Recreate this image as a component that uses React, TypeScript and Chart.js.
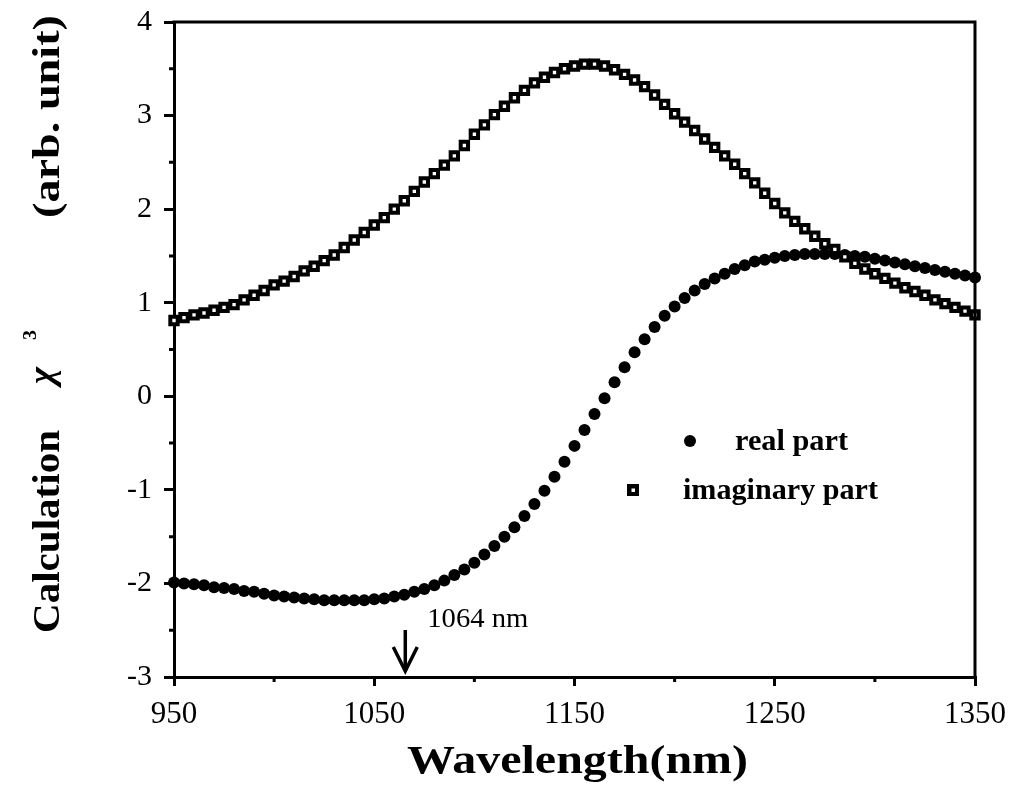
import { useEffect, useRef } from "react";
import { Chart, registerables } from "chart.js";

Chart.register(...registerables);

const wavelengths = [
  950, 955, 960, 965, 970, 975, 980, 985, 990, 995,
  1000, 1005, 1010, 1015, 1020, 1025, 1030, 1035, 1040, 1045,
  1050, 1055, 1060, 1065, 1070, 1075, 1080, 1085, 1090, 1095,
  1100, 1105, 1110, 1115, 1120, 1125, 1130, 1135, 1140, 1145,
  1150, 1155, 1160, 1165, 1170, 1175, 1180, 1185, 1190, 1195,
  1200, 1205, 1210, 1215, 1220, 1225, 1230, 1235, 1240, 1245,
  1250, 1255, 1260, 1265, 1270, 1275, 1280, 1285, 1290, 1295,
  1300, 1305, 1310, 1315, 1320, 1325, 1330, 1335, 1340, 1345,
  1350,
];

const realPart = [
  -1.99, -2.0, -2.01, -2.02, -2.04, -2.05, -2.06, -2.08, -2.09, -2.11,
  -2.13, -2.14, -2.15, -2.16, -2.17, -2.18, -2.18, -2.18, -2.18, -2.18,
  -2.17, -2.16, -2.14, -2.12, -2.09, -2.06, -2.02, -1.97, -1.91, -1.85,
  -1.78, -1.69, -1.6, -1.5, -1.4, -1.28, -1.15, -1.01, -0.86, -0.7,
  -0.53, -0.36, -0.19, -0.02, 0.15, 0.31, 0.47, 0.61, 0.74, 0.86,
  0.96, 1.05, 1.13, 1.2, 1.26, 1.31, 1.36, 1.4, 1.44, 1.46,
  1.48, 1.5, 1.51, 1.52, 1.52, 1.52, 1.52, 1.51, 1.5, 1.49,
  1.47, 1.45, 1.43, 1.41, 1.39, 1.37, 1.35, 1.33, 1.31, 1.29,
  1.27,
];

const imaginaryPart = [
  0.81, 0.84, 0.87, 0.89, 0.92, 0.95, 0.98, 1.03, 1.08, 1.13,
  1.19, 1.23, 1.28, 1.34, 1.39, 1.45, 1.51, 1.59, 1.67, 1.75,
  1.83, 1.91, 2.0, 2.09, 2.19, 2.29, 2.38, 2.47, 2.57, 2.68,
  2.8, 2.9, 3.01, 3.1, 3.19, 3.27, 3.35, 3.41, 3.46, 3.5,
  3.53, 3.55, 3.55, 3.53, 3.49, 3.44, 3.38, 3.31, 3.22, 3.12,
  3.02, 2.93, 2.84, 2.75, 2.66, 2.57, 2.48, 2.38, 2.28, 2.17,
  2.06, 1.96, 1.87, 1.79, 1.71, 1.63, 1.57, 1.49, 1.42, 1.36,
  1.31, 1.26, 1.21, 1.16, 1.12, 1.08, 1.03, 0.99, 0.95, 0.91,
  0.87,
];

const xMajorTicks = [950, 1050, 1150, 1250, 1350];
const xMinorTicks = [1000, 1100, 1200, 1300];
const yMajorTicks = [-3, -2, -1, 0, 1, 2, 3, 4];
const yMinorTicks = [-2.5, -1.5, -0.5, 0.5, 1.5, 2.5, 3.5];
const seriesLabels = ["real part", "imaginary part"];
const annotationWavelength = 1064;
const annotationText = "1064 nm";

const SERIF = "'Liberation Serif', 'Times New Roman', serif";

function fitText(
  ctx: CanvasRenderingContext2D,
  text: string,
  x: number,
  y: number,
  width: number,
  font: string
) {
  ctx.save();
  ctx.font = font;
  const w = ctx.measureText(text).width;
  ctx.translate(x, y);
  ctx.scale(width / w, 1);
  ctx.textAlign = "left";
  ctx.textBaseline = "alphabetic";
  ctx.fillText(text, 0, 0);
  ctx.restore();
}

function fitTextRotated(
  ctx: CanvasRenderingContext2D,
  text: string,
  baselineX: number,
  startY: number,
  width: number,
  font: string
) {
  ctx.save();
  ctx.font = font;
  const w = ctx.measureText(text).width;
  ctx.translate(baselineX, startY);
  ctx.rotate(-Math.PI / 2);
  ctx.scale(width / w, 1);
  ctx.textAlign = "left";
  ctx.textBaseline = "alphabetic";
  ctx.fillText(text, 0, 0);
  ctx.restore();
}

const decorPlugin = {
  id: "decor",
  afterDraw(chart: any) {
    const ctx: CanvasRenderingContext2D = chart.ctx;
    const { left, right, top, bottom } = chart.chartArea;
    const xs = chart.scales.x;
    const ys = chart.scales.y;
    ctx.save();
    ctx.strokeStyle = "#000";
    ctx.fillStyle = "#000";
    ctx.lineCap = "butt";

    // frame top and right
    ctx.lineWidth = 3;
    ctx.beginPath();
    ctx.moveTo(left - 1.5, top);
    ctx.lineTo(right, top);
    ctx.lineTo(right, bottom + 1.5);
    ctx.stroke();

    // minor ticks
    ctx.lineWidth = 3;
    ctx.beginPath();
    for (const v of xMinorTicks) {
      const px = xs.getPixelForValue(v);
      ctx.moveTo(px, bottom);
      ctx.lineTo(px, bottom + 5);
    }
    for (const v of yMinorTicks) {
      const py = ys.getPixelForValue(v);
      ctx.moveTo(left, py);
      ctx.lineTo(left - 5, py);
    }
    ctx.stroke();

    // y axis title
    fitTextRotated(ctx, "Calculation", 59, 633, 203, `bold 38px ${SERIF}`);
    fitTextRotated(ctx, "\u03C7", 53, 384, 17, `italic bold 36px ${SERIF}`);
    fitTextRotated(ctx, "3", 36, 340, 10, `bold 19px ${SERIF}`);
    fitTextRotated(ctx, "(arb. unit)", 59, 218, 203, `bold 38px ${SERIF}`);

    // x axis title
    fitText(ctx, "Wavelength(nm)", 407, 773, 341, `bold 41px ${SERIF}`);

    // legend
    ctx.beginPath();
    ctx.arc(690, 441, 6, 0, Math.PI * 2);
    ctx.fill();
    fitText(ctx, seriesLabels[0], 735, 450, 113, `bold 29px ${SERIF}`);
    ctx.fillStyle = "#000";
    ctx.fillRect(627, 484, 12, 12);
    ctx.fillStyle = "#fff";
    ctx.fillRect(631.5, 488.5, 3.5, 3.5);
    ctx.fillStyle = "#000";
    fitText(ctx, seriesLabels[1], 683, 499, 195, `bold 29px ${SERIF}`);

    // annotation
    const ax = xs.getPixelForValue(annotationWavelength) + 3;
    fitText(ctx, annotationText, ax + 22, 627, 101, `28px ${SERIF}`);
    ctx.lineWidth = 3.5;
    ctx.beginPath();
    ctx.moveTo(ax, 630);
    ctx.lineTo(ax, bottom - 6);
    ctx.stroke();
    ctx.lineJoin = "miter";
    ctx.beginPath();
    ctx.moveTo(ax - 12, bottom - 30);
    ctx.lineTo(ax, bottom - 6);
    ctx.lineTo(ax + 12, bottom - 30);
    ctx.stroke();
    ctx.restore();
  },
};

export default function App() {
  const canvasRef = useRef<HTMLCanvasElement | null>(null);

  useEffect(() => {
    const canvas = canvasRef.current;
    if (!canvas) return;
    const realData = wavelengths.map((w, i) => ({ x: w, y: realPart[i] }));
    const imagData = wavelengths.map((w, i) => ({ x: w, y: imaginaryPart[i] }));

    const chart = new Chart(canvas, {
      type: "scatter",
      data: {
        datasets: [
          {
            label: seriesLabels[1],
            data: imagData,
            pointStyle: "rect",
            pointRadius: 5.2,
            pointBorderWidth: 4,
            pointBackgroundColor: "#fff",
            pointBorderColor: "#000",
            showLine: false,
            clip: false,
          } as any,
          {
            label: seriesLabels[0],
            data: realData,
            pointStyle: "circle",
            pointRadius: 6,
            pointBorderWidth: 0,
            pointBackgroundColor: "#000",
            pointBorderColor: "#000",
            showLine: false,
            clip: false,
          } as any,
        ],
      },
      options: {
        animation: false,
        responsive: false,
        devicePixelRatio: 1,
        layout: { padding: { top: 22, right: 35, left: 0, bottom: 0 } },
        plugins: {
          legend: { display: false },
          tooltip: { enabled: false },
          title: { display: false },
        },
        scales: {
          x: {
            type: "linear",
            min: 950,
            max: 1350,
            afterFit: (scale: any) => {
              scale.height = 120;
              scale.paddingLeft = 0;
              scale.paddingRight = 0;
            },
            afterBuildTicks: (scale: any) => {
              scale.ticks = xMajorTicks.map((v) => ({ value: v }));
            },
            grid: {
              drawOnChartArea: false,
              drawTicks: true,
              tickLength: 9,
              lineWidth: 3,
              color: "#000",
            },
            border: { display: true, width: 3, color: "#000" },
            ticks: {
              color: "#000",
              font: { family: SERIF, size: 31 },
              padding: 10,
              maxRotation: 0,
              autoSkip: false,
              callback: (v: any) => String(v),
            },
          },
          y: {
            type: "linear",
            min: -3,
            max: 4,
            afterFit: (scale: any) => {
              scale.width = 174;
              scale.paddingTop = 0;
              scale.paddingBottom = 0;
            },
            afterBuildTicks: (scale: any) => {
              scale.ticks = yMajorTicks.map((v) => ({ value: v }));
            },
            grid: {
              drawOnChartArea: false,
              drawTicks: true,
              tickLength: 10,
              lineWidth: 3,
              color: "#000",
            },
            border: { display: true, width: 3, color: "#000" },
            ticks: {
              color: "#000",
              font: { family: SERIF, size: 30 },
              padding: 12,
              autoSkip: false,
              callback: (v: any) => String(v),
            },
          },
        },
      },
      plugins: [decorPlugin],
    });
    return () => chart.destroy();
  }, []);

  return (
    <div style={{ position: "absolute", left: 0, top: 0, width: 1010, height: 797, background: "#fff" }}>
      <canvas ref={canvasRef} width={1010} height={797} style={{ width: 1010, height: 797 }} />
    </div>
  );
}
